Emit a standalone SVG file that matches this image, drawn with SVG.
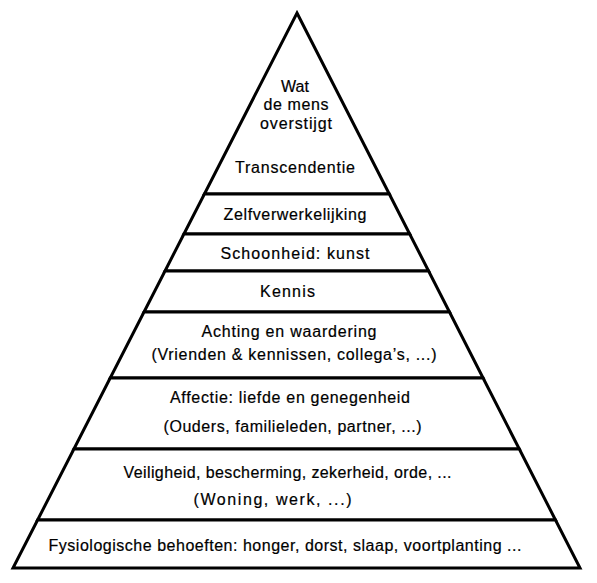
<svg xmlns="http://www.w3.org/2000/svg" width="597" height="583" viewBox="0 0 597 583">
<style>
.lv{fill:#fff;stroke:#000;stroke-width:3;stroke-linejoin:miter}
text{font-family:"Liberation Sans",Arial,sans-serif;font-size:16px;fill:#000;stroke:#000;stroke-width:0.2;text-anchor:middle}
</style>
<rect width="597" height="583" fill="#fff"/>
<g id="level-transcendentie">
<polygon class="lv" points="297,13 389.3,194 204.4,194"/>
<text x="295" y="92" textLength="28" lengthAdjust="spacing">Wat</text>
<text x="296" y="110" textLength="65" lengthAdjust="spacing">de mens</text>
<text x="296" y="129" textLength="72" lengthAdjust="spacing">overstijgt</text>
<text x="295" y="173" textLength="120" lengthAdjust="spacing">Transcendentie</text>
</g>
<g id="level-zelfverwerkelijking">
<polygon class="lv" points="204.4,194 389.3,194 409.7,234 183.9,234"/>
<text x="295" y="220" textLength="143" lengthAdjust="spacing">Zelfverwerkelijking</text>
</g>
<g id="level-schoonheid">
<polygon class="lv" points="183.9,234 409.7,234 428.6,271 165,271"/>
<text x="295" y="259" textLength="149" lengthAdjust="spacing">Schoonheid: kunst</text>
</g>
<g id="level-kennis">
<polygon class="lv" points="165,271 428.6,271 449.5,312 144,312"/>
<text x="287.5" y="297" textLength="55" lengthAdjust="spacing">Kennis</text>
</g>
<g id="level-achting">
<polygon class="lv" points="144,312 449.5,312 483.1,378 110.2,378"/>
<text x="289" y="337" textLength="175" lengthAdjust="spacing">Achting en waardering</text>
<text x="294" y="360" textLength="285" lengthAdjust="spacing">(Vrienden &amp; kennissen, collega’s, ...)</text>
</g>
<g id="level-affectie">
<polygon class="lv" points="110.2,378 483.1,378 519.3,449 73.9,449"/>
<text x="290" y="403" textLength="240" lengthAdjust="spacing">Affectie: liefde en genegenheid</text>
<text x="292.5" y="432" textLength="258" lengthAdjust="spacing">(Ouders, familieleden, partner, ...)</text>
</g>
<g id="level-veiligheid">
<polygon class="lv" points="73.9,449 519.3,449 555.5,520 37.6,520"/>
<text x="287.5" y="478" textLength="328" lengthAdjust="spacing">Veiligheid, bescherming, zekerheid, orde, ...</text>
<text x="272.5" y="505" textLength="158" lengthAdjust="spacing">(Woning, werk, ...)</text>
</g>
<g id="level-fysiologisch">
<polygon class="lv" points="37.6,520 555.5,520 580,568 13,568"/>
<text x="285" y="551" textLength="473" lengthAdjust="spacing">Fysiologische behoeften: honger, dorst, slaap, voortplanting ...</text>
</g>
<g id="connectors"/>
</svg>
